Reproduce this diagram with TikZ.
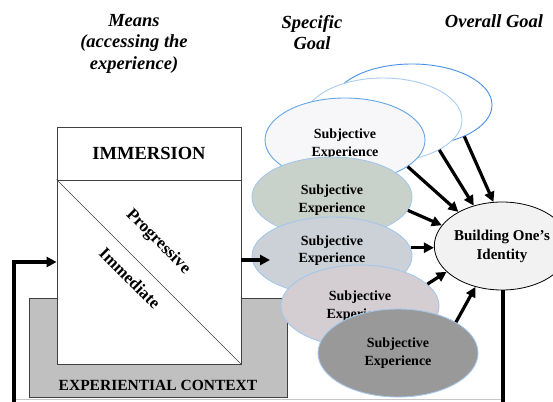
\documentclass[tikz,border=0pt]{standalone}
\usepackage{fontspec}
\setmainfont{Liberation Serif}
\usetikzlibrary{shapes.geometric,arrows.meta}

\definecolor{ringA}{HTML}{4A90E2}
\definecolor{ringB}{HTML}{A8CDF0}
\definecolor{ringC}{HTML}{64A6E6}
\definecolor{ringD}{HTML}{A3C7EB}
\definecolor{fillA}{HTML}{F7F7F9}
\definecolor{fillB}{HTML}{C9D1CB}
\definecolor{fillC}{HTML}{CBD1D7}
\definecolor{fillD}{HTML}{D4CED2}
\definecolor{fillE}{HTML}{999999}
\definecolor{idfill}{HTML}{F2F2F2}
\definecolor{ctxfill}{HTML}{C0C0C0}
\definecolor{edge}{HTML}{404040}

\begin{document}
\begin{tikzpicture}[x=1pt,y=-1pt,
  header/.style={font=\fontsize{18.5}{21.5}\selectfont\bfseries\itshape, align=center, inner sep=0},
  subj/.style={ellipse, draw, line width=0.9pt, inner sep=0,
    minimum width=160pt, minimum height=82pt},
  subjtext/.style={align=center, inner sep=0, font=\fontsize{14}{17.5}\selectfont\bfseries},
  arr/.style={line width=3.2pt, -{Triangle[length=10pt,width=10pt]}},
  loopline/.style={line width=3.2pt},
  boxlabel/.style={font=\bfseries, inner sep=0}]
\useasboundingbox (0,0) rectangle (553,401);
\clip (0,0) rectangle (553,401);

% column headings
\node[header] (hmeans) at (134,43.5) {Means\\(accessing the\\experience)};
\node[header] (hspec) at (312,32.5) {Specific\\Goal};
\node[header] (hall) at (494,21.5) {Overall Goal};

% experiential context and immersion box
\node[draw=edge, fill=ctxfill, line width=0.9pt, minimum width=258pt,
  minimum height=99pt, inner sep=0] (ctx) at (158,347.5) {};
\node[boxlabel, font=\fontsize{15.5}{18}\selectfont\bfseries] (ctxlabel) at (158,385) {EXPERIENTIAL CONTEXT};
\node[draw=edge, fill=white, line width=0.8pt, minimum width=184pt,
  minimum height=53pt, inner sep=0, font=\fontsize{18.5}{22}\selectfont\bfseries] (immhead) at (149,153.5) {IMMERSION};
\node[draw=edge, fill=white, line width=0.8pt, minimum width=184pt,
  minimum height=184pt, inner sep=0] (immbody) at (149,272) {};
\draw[edge, line width=0.7pt] (immbody.north west) -- (immbody.south east);
\node[boxlabel, rotate=-45, font=\fontsize{17}{20}\selectfont\bfseries] (prog) at (158,242) {Progressive};
\node[boxlabel, rotate=-45, font=\fontsize{17}{20}\selectfont\bfseries] (immed) at (130,278) {Immediate};

% subjective experiences, back to front
\node[subj, draw=ringA, fill=white] (b1) at (412,105) {};
\node[subj, draw=ringB, fill=white, minimum width=158pt, minimum height=84pt] (b2) at (383,120) {};
\node[subj, draw=ringC, fill=fillA, minimum height=84pt] (e1) at (345,140) {};
\node[subjtext] (t1) at (345,144) {Subjective\\Experience};
\node[subj, draw=ringD, fill=fillB, minimum height=80pt] (e2) at (332,197) {};
\node[subjtext] (t2) at (332,200) {Subjective\\Experience};
\node[subj, draw=ringD, fill=fillC, minimum height=78pt] (e3) at (332,256) {};
\node[subjtext] (t3) at (332,250.5) {Subjective\\Experience};
\node[subj, draw=ringD, fill=fillD, minimum width=158pt] (e4) at (360,306) {};
\node[subjtext] (t4) at (360,306) {Subjective\\Experience};
\node[subj, draw=ringD, fill=fillE, minimum height=88pt] (e5) at (398,353) {};
\node[subjtext] (t5) at (398,353) {Subjective\\Experience};

% overall goal
\node[ellipse, draw=black, fill=idfill, line width=0.8pt, inner sep=0,
  minimum width=128pt, minimum height=88pt, align=center,
  font=\fontsize{15}{19}\selectfont\bfseries] (id) at (502,246) {Building One's\\Identity};

% contributions to the overall goal
\draw[arr] (b1.-31) -- (id.101);
\draw[arr] (b2.-28) -- (id.125);
\draw[arr] (e1.-23) -- (id.142);
\draw[arr] (e2.-10) -- (id.161);
\draw[arr] (e3.6) -- (e3.6 -| id.west);
\draw[arr] (e4.18) -- (id.205);
\draw[arr] (e5.28) -- (id.237);

% immersion leads to the experiences
\coordinate (outtip) at (270,260);
\draw[arr] (immbody.east |- outtip) -- (outtip);

% feedback loop from identity back to immersion
\coordinate (fbin) at (14,405);
\coordinate (fbout) at (503,405);
\draw[gray!45, line width=1pt] (14,399.5) -- (503,399.5);
\draw[loopline] (id.south -| fbout) -- (fbout);
\draw[arr] (fbin) |- (immbody.west |- 0,262);
\end{tikzpicture}
\end{document}
